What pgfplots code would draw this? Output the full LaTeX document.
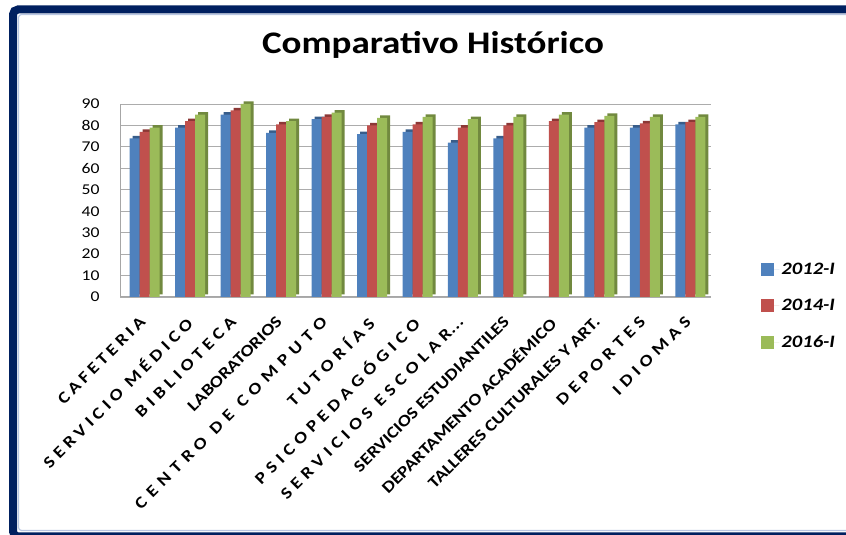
\documentclass[border=0pt]{standalone}
\usepackage{fontspec}
\setmainfont{Carlito}[FakeStretch=1.18]
\usepackage{pgfplots}
\pgfplotsset{compat=1.18}
\definecolor{navy}{RGB}{0,32,96}
\definecolor{lightframe}{RGB}{184,198,226}
\definecolor{cB}{RGB}{79,129,189}
\definecolor{cBs}{RGB}{56,93,138}
\definecolor{cR}{RGB}{192,80,77}
\definecolor{cRs}{RGB}{140,56,54}
\definecolor{cG}{RGB}{155,187,89}
\definecolor{cGs}{RGB}{113,137,63}
\newcommand\ls[2][30]{{\addfontfeatures{LetterSpace=#1}#2}}
\newcommand\dotsx{.\kern0.5pt.\kern0.5pt.}
\pgfplotsset{mylegend/.style={legend image code/.code={\fill[##1] (0bp,-6.5bp) rectangle (13bp,6.5bp); \path (0bp,0bp) -- (18bp,0bp);}}}
\pgfplotstableread{
x b r g
0 74 77 79
1 79 82 85
2 85 87 90
3 76.5 80.5 82
4 83 84 86
5 76 80 83.5
6 77 80.5 84
7 72 79 83
8 74 80 84
9 nan 82 85
10 79 81.5 84.5
11 79 81 84
12 80.5 81.5 84
}\datatable
\begin{document}
\begin{tikzpicture}[x=1bp,y=1bp]
\useasboundingbox (0,0) rectangle (846,535);
\draw[lightframe, line width=1.2bp, rounded corners=3bp] (900,4.5) -- (18.5,4.5) -- (18.5,520.5) -- (900,520.5);
\draw[navy, line width=8bp, rounded corners=5bp] (900,-1.5) -- (13,-1.5) -- (13,525.5) -- (900,525.5);
\node[font=\fontsize{31.5}{36}\selectfont\bfseries, anchor=base] at (433,481.7) {Comparativo Histórico};
\begin{axis}[
  at={(120bp,238bp)}, anchor=south west, scale only axis,
  width=591bp, height=193bp,
  xmin=-0.5, xmax=12.5, ymin=0, ymax=90,
  ytick={0,10,...,90}, xtick={0,...,12},
  xticklabels={{\ls[22]{CAFETERIA}},{\ls[27]{SERVICIO MÉDICO}},{\ls[28]{BIBLIOTECA}},{LABORATORIOS},{\ls[36]{CENTRO DE COMPUTO}},{\ls{TUTORÍAS}},{\ls{PSICOPEDAGÓGICO}},{\ls{SERVICIOS ESCOLAR}\dotsx},{SERVICIOS ESTUDIANTILES},{DEPARTAMENTO ACADÉMICO},{TALLERES CULTURALES Y ART.},{\ls{DEPORTES}},{\ls{IDIOMAS}}},
  xticklabel style={xshift=-4bp, yshift=-14bp, rotate=45, anchor=north east, font=\fontsize{16.5}{16.5}\selectfont\bfseries, inner sep=0pt},
  yticklabel style={font=\fontsize{15}{15}\selectfont, xshift=-17bp},
  /pgf/number format/assume math mode=true,
  ymajorgrids, grid style={gray!65, line width=0.8bp},
  axis lines*=left, axis line style={gray!70, line width=1bp},
  tick style={draw=none},
  clip=false,
  ybar, bar width=10bp,
  legend style={at={(1.08,0.20)}, anchor=north west, draw=none, fill=none, font=\fontsize{17.5}{17.5}\selectfont\bfseries\itshape, row sep=19.5bp},
  legend cell align=left,
]
\addplot[fill=cBs, draw=none, bar shift=-5bp, yshift=2.5bp, forget plot] table[x=x,y=b] {\datatable};
\addplot[fill=cB, draw=none, bar shift=-8bp, mylegend] table[x=x,y=b] {\datatable};
\addplot[fill=cRs, draw=none, bar shift=5bp, yshift=2.5bp, forget plot] table[x=x,y=r] {\datatable};
\addplot[fill=cR, draw=none, bar shift=2bp, mylegend] table[x=x,y=r] {\datatable};
\addplot[fill=cGs, draw=none, bar shift=15bp, yshift=2.5bp, forget plot] table[x=x,y=g] {\datatable};
\addplot[fill=cG, draw=none, bar shift=12bp, mylegend] table[x=x,y=g] {\datatable};
\legend{2012-I,2014-I,2016-I}
\end{axis}
\end{tikzpicture}
\end{document}
